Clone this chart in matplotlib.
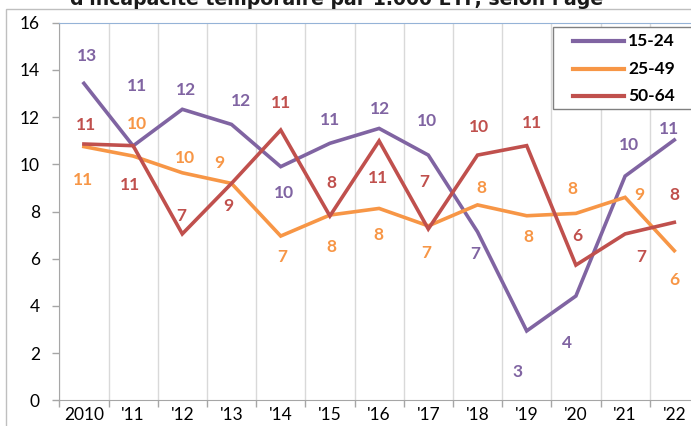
import matplotlib
matplotlib.use("Agg")
import matplotlib.pyplot as plt
from matplotlib.lines import Line2D
from matplotlib.patches import Rectangle

# values
years = ["2010", "'11", "'12", "'13", "'14", "'15", "'16", "'17", "'18", "'19", "'20", "'21", "'22"]
age_15_24 = [13.43, 10.78, 12.33, 11.69, 9.90, 10.89, 11.52, 10.39, 7.14, 2.94, 4.42, 9.50, 11.03]
age_25_49 = [10.75, 10.35, 9.64, 9.19, 6.96, 7.85, 8.13, 7.39, 8.28, 7.82, 7.92, 8.60, 6.34]
age_50_64 = [10.86, 10.79, 7.05, 9.19, 11.45, 7.81, 10.99, 7.26, 10.39, 10.79, 5.73, 7.05, 7.54]
series_names = ["15-24", "25-49", "50-64"]
title = "d'incapacité temporaire par 1.000 ETP, selon l'âge"

# label offsets (pixels, dx / dy up) as placed in the original
offs_15_24 = [(3, 27), (4, 60), (4, 19), (9, 23), (3, -26), (0, 23), (1, 19), (-1, 34),
              (-2, -22), (-9, -41), (-9, -47), (4, 31), (-5, 11)]
offs_25_49 = [(-1, -33), (4, 32), (3, 15), (-12, 20), (2, -21), (1, -32), (-1, -27), (-2, -27),
              (4, 17), (2, -21), (-4, 24), (14, 2), (0, -29)]
offs_50_64 = [(2, 19), (-3, -39), (-1, 18), (-3, -23), (0, 27), (1, 33), (-1, -37), (-4, 47),
              (1, 28), (5, 23), (1, 29), (16, -23), (0, 27)]

colors = ["#8064A2", "#F79646", "#C0504D"]

plt.rcParams['font.family'] = ['Lato', 'DejaVu Sans']

W, H = 691, 426
fig = plt.figure(figsize=(W / 100, H / 100), dpi=100)


def fx(px):
    return px / W


def fy(py):
    return 1 - py / H


ax = fig.add_axes([fx(59.3), fy(400.3), (13 * 49.2) / W, (400.3 - 22.7) / H])

x = list(range(len(years)))
for vals, offs, c in zip([age_15_24, age_25_49, age_50_64], [offs_15_24, offs_25_49, offs_50_64], colors):
    ax.plot(x, vals, color=c, lw=2.6, solid_joinstyle='miter', zorder=3)
    for xi, v, (dx, dy) in zip(x, vals, offs):
        ax.annotate(f"{v:.0f}", (xi, v), xytext=(dx, dy), textcoords='offset pixels',
                    ha='center', va='center', color=c, fontsize=12.5, fontweight='bold', zorder=4)

ax.set_xlim(-0.5, len(years) - 0.5)
ax.set_ylim(0, 16)
ax.set_yticks(range(0, 17, 2))
ax.set_xticks(x)
ax.set_xticklabels(years)
ax.set_xticks([i - 0.5 for i in range(len(years) + 1)], minor=True)
ax.tick_params(axis='x', which='major', length=0, pad=5, labelsize=12.5)
ax.tick_params(axis='x', which='minor', length=5, color='#A6A6A6', width=1)
ax.tick_params(axis='y', length=5, color='#A6A6A6', width=1, pad=9, labelsize=12.5)
ax.grid(axis='x', which='minor', color='#D9D9D9', lw=1)
ax.set_axisbelow(True)

ax.spines['right'].set_visible(False)
ax.spines['top'].set_color('#95B3D7')
ax.spines['left'].set_color('#A6A6A6')
ax.spines['bottom'].set_color('#A6A6A6')

# outer chart frame
fig.patches.append(Rectangle((fx(6), -0.1), 1.2, fy(9) + 0.1, transform=fig.transFigure,
                             fill=False, edgecolor='#BFBFBF', lw=1))

# legend box, cut by the right edge as in the reference
fig.patches.append(Rectangle((fx(553), fy(109)), 0.5, (109 - 27) / H, transform=fig.transFigure,
                             facecolor='white', edgecolor='#808080', lw=1, zorder=5))
for i, (name, c) in enumerate(zip(series_names, colors)):
    ry = 41 + i * 27.5
    fig.lines.append(Line2D([fx(573), fx(624)], [fy(ry), fy(ry)], transform=fig.transFigure,
                            color=c, lw=3, zorder=6))
    fig.text(fx(628), fy(ry), name, ha='left', va='center', fontsize=12.5, fontweight='bold',
             color='black', zorder=6)

# title sits mostly above the frame, only its lower part shows
fig.text(fx(337), fy(5), title, ha='center', va='baseline', fontsize=13.6, fontweight='bold',
         color='#1A1A1A', family=['DejaVu Sans'])

fig.savefig("out.png", dpi=100)
